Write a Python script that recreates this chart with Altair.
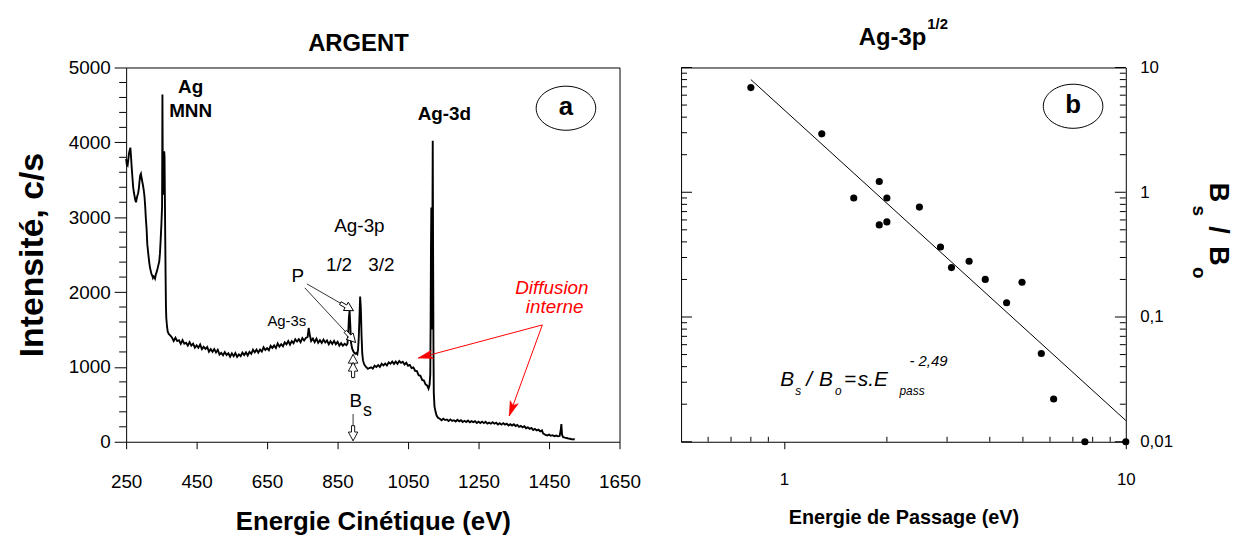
import math
import altair as alt
import pandas as pd

FONT = "Liberation Sans"

# ------------------------------------------------------------------
# Panel (a) : ARGENT spectrum
# ------------------------------------------------------------------
title_a = "ARGENT"
x_ticks_a = [250, 450, 650, 850, 1050, 1250, 1450, 1650]
y_ticks_a = [0, 1000, 2000, 3000, 4000, 5000]
y_minor_a = [200, 400, 600, 800, 1200, 1400, 1600, 1800, 2200, 2400, 2600, 2800,
             3200, 3400, 3600, 3800, 4200, 4400, 4600, 4800]

# (kinetic energy eV, counts/s)
spec_mnn = [
    (250, 3780), (252, 3700), (254, 3690), (256, 3760), (258, 3850), (260, 3890),
    (262, 3930), (264, 3800), (266, 3650), (268, 3520), (270, 3400), (272, 3330),
    (274, 3280), (276, 3230), (278, 3200), (280, 3250), (282, 3290), (284, 3320),
    (286, 3380), (288, 3480), (290, 3560), (292, 3580), (294, 3520), (296, 3470),
    (298, 3420), (300, 3360), (302, 3280), (304, 3150), (306, 2980), (308, 2850),
    (310, 2640), (312, 2550), (314, 2460), (316, 2380), (318, 2320), (320, 2280),
    (322, 2240), (324, 2220), (326, 2190), (328, 2210), (330, 2200), (332, 2180),
    (334, 2230), (336, 2260), (338, 2290), (340, 2330), (342, 2370), (344, 2410),
    (346, 2520), (348, 2700), (350, 2900), (352, 3150), (353, 4640), (354, 3600),
    (355, 3300), (356, 3500), (357, 3700), (358, 3880), (359, 3800), (360, 3250),
    (361, 2700), (362, 2200), (363, 1800), (364, 1650), (366, 1540), (368, 1470),
    (371, 1440), (375, 1420),
]
spec_bg = [
    (380, 1393), (385, 1346), (390, 1390), (395, 1345), (400, 1357), (405, 1308),
    (410, 1357), (415, 1310), (420, 1323), (425, 1285), (430, 1332), (435, 1285),
    (440, 1310), (445, 1256), (450, 1287), (455, 1255), (460, 1298), (465, 1237),
    (470, 1268), (475, 1241), (480, 1266), (485, 1204), (490, 1238), (495, 1201),
    (500, 1237), (505, 1193), (510, 1229), (515, 1165), (520, 1187), (525, 1156),
    (530, 1198), (535, 1160), (540, 1181), (545, 1135), (550, 1181), (555, 1143),
    (560, 1186), (565, 1135), (570, 1167), (575, 1143), (580, 1191), (585, 1158),
    (590, 1194), (595, 1152), (600, 1200), (605, 1175), (610, 1229), (615, 1196),
    (620, 1232), (625, 1190), (630, 1232), (635, 1205), (640, 1261), (645, 1225),
    (650, 1251), (655, 1224), (660, 1282), (665, 1254), (670, 1288), (675, 1253),
    (680, 1313), (685, 1271), (690, 1303), (695, 1276), (700, 1328), (705, 1302),
    (710, 1345), (715, 1297), (720, 1344), (725, 1316), (730, 1369), (735, 1339),
    (740, 1370), (745, 1331), (750, 1384), (755, 1353), (760, 1388), (765, 1400),
    (768, 1520), (771, 1430), (775, 1345), (780, 1378), (785, 1332), (790, 1378),
    (795, 1322), (800, 1357), (805, 1320), (810, 1365), (815, 1326), (820, 1353),
    (825, 1302), (830, 1343), (835, 1306), (840, 1348), (845, 1304), (850, 1336),
    (855, 1284), (860, 1318), (865, 1283), (870, 1310),
]
spec_3p = [
    (875, 1290), (878, 1310), (880, 1420), (882, 1650), (884, 1750), (886, 1560),
    (888, 1330), (891, 1250), (894, 1215), (897, 1190), (900, 1175), (903, 1185),
    (906, 1170), (908, 1230), (910, 1380), (912, 1650), (914, 1940), (916, 1780),
    (918, 1420), (920, 1180), (922, 1090), (925, 1040), (928, 1015), (932, 995),
    (936, 975), (940, 985),
]
spec_3d = [
    (945, 995), (950, 977), (955, 1016), (960, 999), (965, 1025), (970, 999),
    (975, 1043), (980, 1020), (985, 1043), (990, 1020), (995, 1061), (1000, 1042),
    (1005, 1071), (1010, 1040), (1015, 1071), (1020, 1042), (1025, 1079), (1030, 1054),
    (1035, 1069), (1040, 1032), (1045, 1056), (1050, 1016), (1055, 1027), (1060, 984),
    (1065, 994), (1070, 948), (1075, 944), (1080, 890), (1085, 882), (1090, 826),
    (1095, 818), (1100, 763), (1104, 753), (1108, 710), (1111, 760), (1113, 900),
    (1114, 1600), (1115, 2600), (1116, 3130), (1117, 2200), (1118, 1500), (1119, 2800),
    (1120, 4020), (1121, 2600), (1122, 1300), (1123, 650), (1125, 470), (1128, 400),
    (1131, 350), (1135, 320),
]
spec_tail = [
    (1140, 308), (1145, 288), (1150, 308), (1155, 290), (1160, 298), (1165, 278),
    (1170, 299), (1175, 279), (1180, 288), (1185, 271), (1190, 294), (1195, 274),
    (1200, 288), (1205, 264), (1210, 280), (1215, 264), (1220, 283), (1225, 259),
    (1230, 275), (1235, 263), (1240, 276), (1245, 251), (1250, 267), (1255, 250),
    (1260, 269), (1265, 249), (1270, 267), (1275, 242), (1280, 255), (1285, 241),
    (1290, 260), (1295, 241), (1300, 254), (1305, 231), (1310, 248), (1315, 229),
    (1320, 249), (1325, 230), (1330, 242), (1335, 218), (1340, 234), (1345, 216),
    (1350, 233), (1355, 210), (1360, 225), (1365, 199), (1370, 212), (1375, 192),
    (1380, 207), (1385, 181), (1390, 193), (1395, 173), (1400, 185), (1405, 158),
    (1410, 171), (1415, 152), (1420, 161), (1425, 138), (1430, 151), (1433, 112),
    (1437, 100), (1440, 92), (1445, 85), (1450, 95), (1455, 80), (1460, 88),
    (1465, 75), (1470, 82), (1475, 72), (1480, 78), (1483, 150), (1485, 235),
    (1487, 90), (1490, 62), (1495, 55), (1500, 50), (1505, 42), (1510, 40),
    (1515, 32), (1520, 34), (1523, 30),
]

# annotations (data coordinates of panel a)
labels_bold_a = [("Ag", 433, 4655), ("MNN", 433, 4337), ("Ag-3d", 1153, 4297)]
labels_reg_a = [("Ag-3p", 912, 2799), ("1/2", 854, 2281), ("3/2", 974, 2281),
                ("P", 737, 2135), ("B", 902, 464)]
labels_small_a = [("Ag-3s", 706, 1552)]
labels_sub_a = [("s", 935, 345)]
labels_red_a = [("Diffusion", 1458, 1976), ("interne", 1466, 1724)]
panel_tag_a = [("a", 1498, 4456)]

red_arrows = [(1431, 1561, 1079, 1118), (1431, 1561, 1337, 345)]
hollow_arrows = [(763, 2109, 895, 1751), (757, 2056, 901, 1326),
                 (894, 849, 894, 1167), (894, 849, 894, 1061),
                 (894, 371, 894, 13)]

# ------------------------------------------------------------------
# Panel (b) : Ag-3p 1/2, Bs/Bo vs pass energy
# ------------------------------------------------------------------
title_b = "Ag-3p"
title_b_sup = "1/2"
E_pass = [0.80, 1.29, 1.60, 1.90, 1.90, 2.00, 2.00, 2.49, 2.87, 3.09, 3.48, 3.88,
          4.48, 4.97, 5.66, 6.15, 7.59, 10.0]
ratio = [6.9, 2.94, 0.90, 1.22, 0.547, 0.90, 0.578, 0.76, 0.364, 0.249, 0.28, 0.20,
         0.13, 0.19, 0.051, 0.022, 0.010, 0.010]
fit_E = [0.8, 10.0]
fit_R = [8.0, 0.0148]
x_major_b = [1, 10]
x_minor_b = [0.6, 0.7, 0.8, 0.9, 2, 3, 4, 5, 6, 7, 8, 9]
y_major_b = [0.01, 0.1, 1, 10]
y_minor_b = [0.02, 0.03, 0.04, 0.05, 0.06, 0.07, 0.08, 0.09,
             0.2, 0.3, 0.4, 0.5, 0.6, 0.7, 0.8, 0.9,
             2, 3, 4, 5, 6, 7, 8, 9]
formula_anchor = (0.976, 0.0279)
formula_parts = [("B", 0, 0, 21), ("s", 15, 9, 12), ("/", 26, 0, 21), ("B", 39, 0, 21),
                 ("o", 55, 9, 12), ("=", 64, 0, 21), ("s.E", 78, 0, 21),
                 ("pass", 120, 9, 12), ("- 2,49", 130, -20, 15)]
panel_tag_b = [("b", 7.01, 4.89)]
ytitle_b = [("B", 533, 116, 27), ("s", 516, 139, 19), ("/", 533, 160, 27),
            ("B", 533, 180, 27), ("o", 516, 201, 19)]

# ------------------------------------------------------------------
W_A, H_A = 497, 377
W_B, H_B = 448, 377
ELLIPSE = "M-1,0 A1,0.74 0 1,1 1,0 A1,0.74 0 1,1 -1,0 Z"
RED_HEAD = "M0,0 L0.5,1.7 L0,1.3 L-0.5,1.7 Z"
HOLLOW_HEAD = "M0,0 L0.6,1.1 L0.2,1.1 L0.2,1.9 L-0.2,1.9 L-0.2,1.1 L-0.6,1.1 Z"

xs_a = alt.Scale(domain=[250, 1650], nice=False, zero=False)
ys_a = alt.Scale(domain=[0, 5000], nice=False, zero=False)

AX_AX = alt.Axis(values=x_ticks_a, title="Energie Cinétique (eV)", format="d",
                 labelFontSize=19, tickSize=7, labelPadding=24,
                 titleFontSize=26, titleFontWeight="bold", titlePadding=17,
                 grid=False, domain=False, labelFlush=False)
AX_AY = alt.Axis(values=y_ticks_a, title="Intensité, c/s", format="d",
                 labelFontSize=19, tickSize=12, labelPadding=4,
                 titleFontSize=34, titleFontWeight="bold", titlePadding=19,
                 grid=False, domain=False, labelFlush=False)


def head_angle(x1, y1, x2, y2, sx, sy):
    dx = (x2 - x1) * sx
    dy = -(y2 - y1) * sy
    return math.degrees(math.atan2(dx, -dy)) % 360


def arrows_df(rows):
    return pd.DataFrame([
        {"x1": a, "y1": b, "x2": c, "y2": d,
         "ang": head_angle(a, b, c, d, W_A / 1400, H_A / 5000)}
        for a, b, c, d in rows])


spectrum = pd.DataFrame(spec_mnn + spec_bg + spec_3p + spec_3d + spec_tail,
                        columns=["E", "I"])


def XA(f):
    return alt.X(f, type="quantitative", scale=xs_a, axis=AX_AX)


def YA(f):
    return alt.Y(f, type="quantitative", scale=ys_a, axis=AX_AY)


line_a = alt.Chart(spectrum).mark_line(color="black", strokeWidth=1.9).encode(
    x=XA("E"), y=YA("I"))

minor_a = alt.Chart(pd.DataFrame({"v": y_minor_a})).mark_rule(
    color="black", strokeWidth=1).encode(
    y=YA("v"), x=alt.value(-7), x2=alt.value(0))

red_df = arrows_df(red_arrows)
hol_df = arrows_df(hollow_arrows)

red_shaft = alt.Chart(red_df).mark_rule(color="#ff0000", strokeWidth=1).encode(
    x=XA("x1"), y=YA("y1"), x2="x2", y2="y2")
red_heads = alt.Chart(red_df).mark_point(
    shape=RED_HEAD, size=300, filled=True, fill="#ff0000", stroke="#ff0000",
    strokeWidth=0.5, opacity=1).encode(
    x=XA("x2"), y=YA("y2"), angle=alt.Angle("ang:Q", scale=None))

hol_shaft = alt.Chart(hol_df).mark_rule(color="black", strokeWidth=0.8).encode(
    x=XA("x1"), y=YA("y1"), x2="x2", y2="y2")
hol_heads = alt.Chart(hol_df).mark_point(
    shape=HOLLOW_HEAD, size=256, filled=True, fill="white", stroke="black",
    strokeWidth=0.9, opacity=1).encode(
    x=XA("x2"), y=YA("y2"), angle=alt.Angle("ang:Q", scale=None))


def text_layer(rows, xf, yf, **kw):
    df = pd.DataFrame(rows, columns=["t", "x", "y"])
    base = dict(font=FONT, baseline="alphabetic", align="center", color="black")
    base.update(kw)
    return alt.Chart(df).mark_text(**base).encode(x=xf("x"), y=yf("y"), text="t:N")


txt_a = [
    text_layer(labels_bold_a, XA, YA, fontSize=19, fontWeight="bold"),
    text_layer(labels_reg_a, XA, YA, fontSize=19),
    text_layer(labels_small_a, XA, YA, fontSize=15),
    text_layer(labels_sub_a, XA, YA, fontSize=18),
    text_layer(labels_red_a, XA, YA, fontSize=19, fontStyle="italic", color="#ff0000"),
    text_layer(panel_tag_a, XA, YA, fontSize=26, fontWeight="bold", baseline="middle", dy=-1),
]
ell_a = alt.Chart(pd.DataFrame(panel_tag_a, columns=["t", "x", "y"])).mark_point(
    shape=ELLIPSE, size=3600, filled=False, stroke="black", strokeWidth=1,
    opacity=1).encode(x=XA("x"), y=YA("y"))

title_a_layer = alt.Chart(pd.DataFrame({"t": [title_a]})).mark_text(
    font=FONT, fontSize=24, fontWeight="bold", align="center", baseline="alphabetic",
    color="black").encode(x=alt.value(234), y=alt.value(-17), text="t:N")

panel_a = alt.layer(
    line_a, minor_a, red_shaft, hol_shaft, red_heads, hol_heads, ell_a, *txt_a,
    title_a_layer,
).properties(width=W_A, height=H_A)

# ------------------------------------------------------------------
xs_b = alt.Scale(type="log", domain=[0.5, 10], nice=False)
ys_b = alt.Scale(type="log", domain=[0.01, 10], nice=False)

AX_BX = alt.Axis(values=x_major_b, title="Energie de Passage (eV)", format="~g",
                 labelFontSize=17, tickSize=7, labelPadding=23,
                 titleFontSize=20, titleFontWeight="bold", titlePadding=20,
                 grid=False, domain=False, labelFlush=False)
AX_BY = alt.Axis(values=y_major_b, orient="right", title=None, ticks=False,
                 labelExpr="datum.value >= 1 ? format(datum.value, 'd') : replace(format(datum.value, '.2~f'), '.', ',')",
                 labelFontSize=17, labelPadding=14, labelAlign="left",
                 grid=False, domain=False, labelFlush=False)


def XB(f):
    return alt.X(f, type="quantitative", scale=xs_b, axis=AX_BX)


def YB(f):
    return alt.Y(f, type="quantitative", scale=ys_b, axis=AX_BY)


pts_b = alt.Chart(pd.DataFrame({"E": E_pass, "R": ratio})).mark_circle(
    size=52, color="black", opacity=1).encode(x=XB("E"), y=YB("R"))
fit_b = alt.Chart(pd.DataFrame({"E": fit_E, "R": fit_R})).mark_line(
    color="black", strokeWidth=1).encode(x=XB("E"), y=YB("R"))


def tick_rules(vals, chan, a, b):
    df = pd.DataFrame({"v": vals})
    if chan == "y":
        return alt.Chart(df).mark_rule(color="black", strokeWidth=1).encode(
            y=YB("v"), x=alt.value(a), x2=alt.value(b))
    return alt.Chart(df).mark_rule(color="black", strokeWidth=1).encode(
        x=XB("v"), y=alt.value(a), y2=alt.value(b))


ticks_b = [
    tick_rules(y_minor_b, "y", 0, 6), tick_rules(y_major_b, "y", 0, 11),
    tick_rules(y_minor_b, "y", W_B, W_B - 6), tick_rules(y_major_b, "y", W_B, W_B - 11),
    tick_rules(x_minor_b, "x", H_B, H_B - 5),
]

formula_layers = []
for t, dx, dy, fs in formula_parts:
    formula_layers.append(
        alt.Chart(pd.DataFrame({"x": [formula_anchor[0]], "y": [formula_anchor[1]], "t": [t]}))
        .mark_text(font=FONT, fontSize=fs, fontStyle="italic", align="left",
                   baseline="alphabetic", dx=dx, dy=dy, color="black")
        .encode(x=XB("x"), y=YB("y"), text="t:N"))

tag_b = text_layer(panel_tag_b, XB, YB, fontSize=26, fontWeight="bold",
                   baseline="middle", dy=-1)
ell_b = alt.Chart(pd.DataFrame(panel_tag_b, columns=["t", "x", "y"])).mark_point(
    shape=ELLIPSE, size=3600, filled=False, stroke="black", strokeWidth=1,
    opacity=1).encode(x=XB("x"), y=YB("y"))

ytitle_layers = []
for t, px, py, fs in ytitle_b:
    ytitle_layers.append(
        alt.Chart(pd.DataFrame({"t": [t]})).mark_text(
            font=FONT, fontSize=fs, fontWeight="bold", angle=90, align="left",
            baseline="alphabetic", color="black")
        .encode(x=alt.value(px), y=alt.value(py), text="t:N"))

title_b_layers = [
    alt.Chart(pd.DataFrame({"t": [title_b]})).mark_text(
        font=FONT, fontSize=24, fontWeight="bold", align="left", baseline="alphabetic",
        color="black").encode(x=alt.value(179), y=alt.value(-23), text="t:N"),
    alt.Chart(pd.DataFrame({"t": [title_b_sup]})).mark_text(
        font=FONT, fontSize=15, fontWeight="bold", align="left", baseline="alphabetic",
        color="black").encode(x=alt.value(248), y=alt.value(-39), text="t:N"),
]

panel_b = alt.layer(
    pts_b, *ticks_b, fit_b, ell_b, tag_b, *formula_layers, *ytitle_layers, *title_b_layers,
).properties(width=W_B, height=H_B)

chart = alt.hconcat(panel_a, panel_b, spacing=62, bounds="flush").properties(
    padding={"left": 7, "top": 6, "right": 4, "bottom": 0}
).configure(font=FONT).configure_view(stroke="black", strokeWidth=1).configure_axis(
    labelFont=FONT, titleFont=FONT, labelColor="black", titleColor="black",
    tickColor="black", tickWidth=1)

chart.save("out.html", embed_options={"renderer": "svg", "actions": False})
